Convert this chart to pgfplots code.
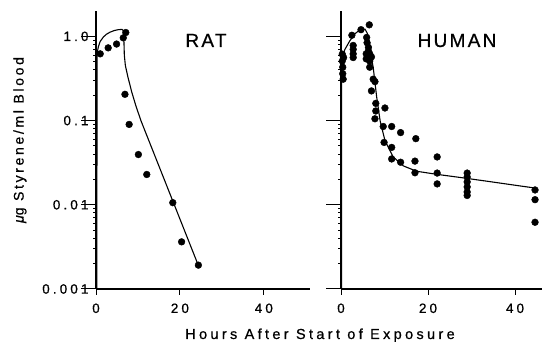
\documentclass[border=0pt]{standalone}
\usepackage{fontspec}
\setmainfont{Liberation Sans}
\newfontfamily\tfont[LetterSpace=23,FakeBold=0.7]{Liberation Sans}
\newfontfamily\yfont[LetterSpace=19,FakeBold=0.7]{Liberation Sans}
\newfontfamily\hfont[LetterSpace=12,FakeBold=0.7]{Liberation Sans}
\usepackage{pgfplots}
\usepackage{pgfplotstable}
\pgfplotsset{compat=1.18}
\pgfplotstableread{
x y
1.0 0.62
2.9 0.73
4.9 0.81
6.5 0.96
7.1 1.11
6.9 0.205
7.9 0.090
10.1 0.0395
12.1 0.0229
18.3 0.0106
20.4 0.00363
24.4 0.00192
}\ratpts
\pgfplotstableread{
x y
0.2 0.001
0.25 0.62
0.55 0.75
1.0 0.87
1.74 0.98
2.5 1.06
3.33 1.12
4.3 1.17
5.3 1.20
6.2 1.21
6.6 1.15
6.65 0.9
6.75 0.6
7.0 0.45
7.6 0.33
8.5 0.22
9.5 0.15
10.7 0.10
24.4 0.0019
}\ratcurve
\pgfplotstableread{
x y
0.3 0.615
0.3 0.51
0.4 0.43
0.4 0.36
0.5 0.31
0.6 0.56
2.5 1.03
2.8 0.78
2.8 0.70
2.8 0.62
2.8 0.56
4.6 1.20
6.5 1.37
5.9 0.97
6.0 0.84
6.3 0.74
6.3 0.67
6.6 0.62
7.0 0.57
5.8 0.62
5.8 0.54
6.6 0.51
6.6 0.43
7.4 0.31
7.8 0.29
7.0 0.225
8.0 0.16
8.0 0.13
7.8 0.105
10.1 0.141
9.7 0.085
11.65 0.085
13.7 0.072
17.2 0.061
9.9 0.055
11.65 0.048
11.65 0.035
13.7 0.032
17.0 0.033
17.0 0.024
22.1 0.037
22.1 0.0238
22.1 0.0177
29.0 0.0238
29.0 0.0214
29.0 0.0187
29.0 0.0163
29.0 0.0142
29.0 0.0129
44.6 0.0150
44.6 0.0115
44.6 0.0062
}\humpts
\pgfplotstableread{
x y
0.12 0.001
0.15 0.5
0.5 0.62
0.9 0.70
2.0 0.88
3.1 1.06
4.0 1.16
4.8 1.22
5.5 1.22
6.0 1.10
6.3 0.97
6.7 0.67
7.4 0.43
8.2 0.19
9.0 0.099
10.1 0.058
12.0 0.037
14.3 0.029
17.4 0.025
22.0 0.023
28.9 0.0206
44.6 0.0158
}\humcurve
\begin{document}
\begin{tikzpicture}
\useasboundingbox (0,0) rectangle (542pt,342pt);
\begin{axis}[scale only axis, anchor=south west, at={(96pt,53pt)},
  width=214pt, height=278pt,
  ymode=log, ymin=0.001, ymax=2, xmin=0, xmax=51,
  axis x line*=bottom, axis y line*=left,
  axis line style={line width=1.5pt},
  ytick=\empty, xtick={0,20,40}, xticklabels={0,20,40},
  tick align=outside, major tick length=6pt,
  tick style={line width=1pt, black},
  tick label style={font=\tfont\fontsize{13.5}{15}\selectfont},
  xticklabel style={yshift=-5pt},
  clip=false]
\addplot[black, line width=1.1pt, no marks] table {\ratcurve};
\addplot[only marks, mark=*, mark size=3.4pt, black] table {\ratpts};
\end{axis}
\begin{axis}[scale only axis, anchor=south west, at={(96pt,53pt)},
  width=214pt, height=278pt,
  ymode=log, ymin=0.001, ymax=2, xmin=0, xmax=51,
  hide x axis, axis y line*=left,
  axis line style={line width=1.5pt},
  xtick=\empty, ytick={0.001,0.01,0.1,1}, yticklabels={0.001,0.01,0.1,1.0},
  minor ytick={},
  tick align=outside, major tick length=15pt,
  tick style={line width=1pt, black},
  tick label style={font=\tfont\fontsize{13.5}{15}\selectfont},
  yticklabel style={xshift=11pt}]
\end{axis}
\begin{axis}[scale only axis, anchor=south west, at={(341pt,53pt)},
  width=201pt, height=278pt,
  ymode=log, ymin=0.001, ymax=2, xmin=0, xmax=46.2,
  axis x line*=bottom, axis y line*=left,
  axis line style={line width=1.5pt},
  ytick=\empty, xtick={0,20,40}, xticklabels={0,20,40},
  tick align=outside, major tick length=6pt,
  tick style={line width=1pt, black},
  tick label style={font=\tfont\fontsize{13.5}{15}\selectfont},
  xticklabel style={yshift=-5pt},
  clip=false]
\addplot[black, line width=1.1pt, no marks] table {\humcurve};
\addplot[only marks, mark=*, mark size=3.4pt, black] table {\humpts};
\end{axis}
\begin{axis}[scale only axis, anchor=south west, at={(341pt,53pt)},
  width=201pt, height=278pt,
  ymode=log, ymin=0.001, ymax=2, xmin=0, xmax=46.2,
  hide x axis, axis y line*=left,
  axis line style={line width=1.5pt},
  xtick=\empty, ytick={0.001,0.01,0.1,1}, yticklabels={},
  minor ytick={},
  tick align=outside, major tick length=15pt,
  tick style={line width=1pt, black}]
\end{axis}
\node[anchor=base, font=\hfont\fontsize{19}{22}\selectfont] at (206pt,295pt) {RAT};
\node[anchor=base, font=\hfont\fontsize{19}{22}\selectfont] at (457pt,295pt) {HUMAN};
\node[anchor=base, font=\tfont\fontsize{14.5}{16}\selectfont] at (320pt,3pt) {Hours After Start of Exposure};
\node[rotate=90, font=\yfont\fontsize{14}{16}\selectfont] at (20pt,202pt) {{\itshape μ}g Styrene/ml Blood};
\end{tikzpicture}
\end{document}
